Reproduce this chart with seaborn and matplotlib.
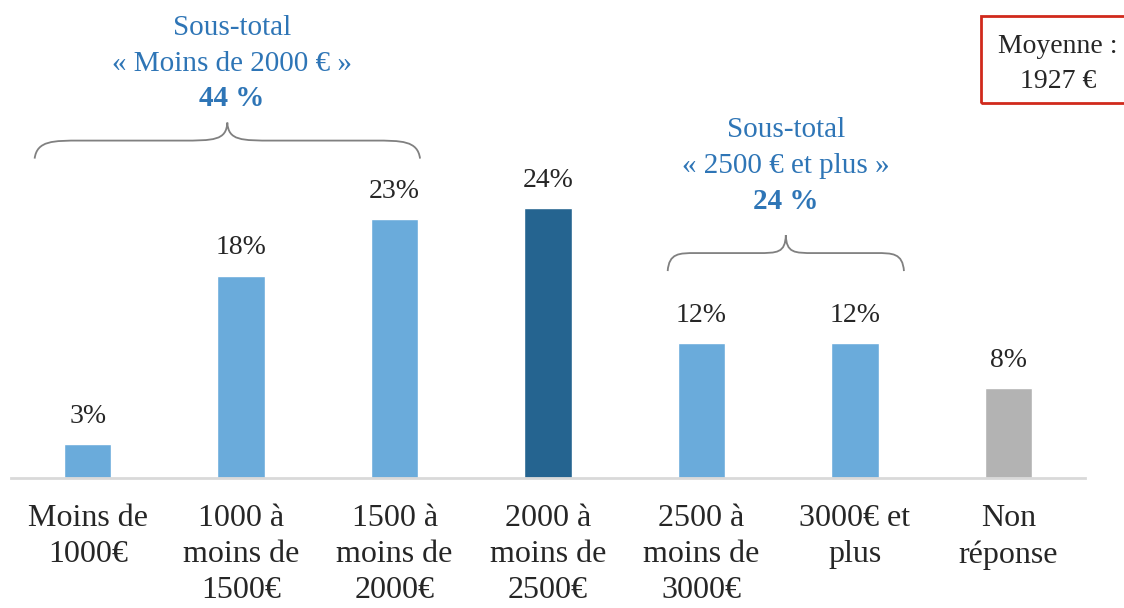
import matplotlib
matplotlib.use("Agg")
import matplotlib.pyplot as plt
import matplotlib.path as mpath
import matplotlib.patches as mpatches
import seaborn as sns

categories = ["Moins de\n1000€", "1000 à\nmoins de\n1500€", "1500 à\nmoins de\n2000€",
              "2000 à\nmoins de\n2500€", "2500 à\nmoins de\n3000€", "3000€ et\nplus", "Non\nréponse"]
values = [3, 18, 23, 24, 12, 12, 8]
bar_colors = ["#6AABDB", "#6AABDB", "#6AABDB", "#256490", "#6AABDB", "#6AABDB", "#B3B3B3"]

subtotal_left = ["Sous-total", "« Moins de 2000 € »", "44 %"]
subtotal_right = ["Sous-total", "« 2500 € et plus »", "24 %"]
mean_text = "Moyenne :\n1927 €"

blue = "#2E75B6"
serif = ["Liberation Serif", "DejaVu Serif"]

sns.set_theme(style="white")
plt.rcParams["font.family"] = serif

fig = plt.figure(figsize=(11.24, 6.08), dpi=100)
ax = fig.add_axes([11 / 1124, 130 / 608, 1074 / 1124, 478 / 608])

sns.barplot(x=list(range(len(values))), y=values, hue=list(range(len(values))),
            palette=bar_colors, width=0.31, legend=False, saturation=1, ax=ax)

ax.set_xlim(-0.5, 6.5)
ax.set_ylim(0, 42.5)
ax.set_xticks(range(len(categories)))
ax.set_xticklabels(categories, fontsize=23, color="#262626", linespacing=1.3)
ax.tick_params(axis="x", length=0, pad=19)
ax.set_yticks([])
ax.set_xlabel("")
ax.set_ylabel("")
for s in ["left", "right", "top"]:
    ax.spines[s].set_visible(False)
ax.spines["bottom"].set_color("#D9D9D9")
ax.spines["bottom"].set_linewidth(2)

for i, v in enumerate(values):
    ax.annotate(f"{v}%", (i, v), xytext=(0, 11), textcoords="offset points",
                ha="center", va="bottom", fontsize=20, color="#262626")


def brace(ax, x0, x1, y, h):
    xm = (x0 + x1) / 2
    yc = y + h / 2
    k = (x1 - x0) * 0.12
    verts = [(x0, y), (x0 + k * 0.05, yc), (x0 + k * 0.4, yc), (x0 + k, yc),
             (xm - k, yc), (xm - k * 0.3, yc), (xm - k * 0.02, yc), (xm, y + h),
             (xm + k * 0.02, yc), (xm + k * 0.3, yc), (xm + k, yc),
             (x1 - k, yc), (x1 - k * 0.4, yc), (x1 - k * 0.05, yc), (x1, y)]
    codes = [mpath.Path.MOVETO, mpath.Path.CURVE4, mpath.Path.CURVE4, mpath.Path.CURVE4,
             mpath.Path.LINETO, mpath.Path.CURVE4, mpath.Path.CURVE4, mpath.Path.CURVE4,
             mpath.Path.CURVE4, mpath.Path.CURVE4, mpath.Path.CURVE4,
             mpath.Path.LINETO, mpath.Path.CURVE4, mpath.Path.CURVE4, mpath.Path.CURVE4]
    ax.add_patch(mpatches.PathPatch(mpath.Path(verts, codes), fill=False,
                                    edgecolor="#808080", lw=1.3, clip_on=False))


brace(ax, -0.346, 2.166, 28.4, 3.2)
brace(ax, 3.78, 5.32, 18.4, 3.2)


def subtotal(ax, x, y, lines):
    ax.text(x, y, lines[0], ha="center", va="center", fontsize=21, color=blue)
    ax.text(x, y - 3.15, lines[1], ha="center", va="center", fontsize=21, color=blue)
    ax.text(x, y - 6.3, lines[2], ha="center", va="center", fontsize=21, color=blue,
            fontweight="bold")


subtotal(ax, 0.94, 40.0, subtotal_left)
subtotal(ax, 4.55, 30.9, subtotal_right)

fig.patches.append(mpatches.Rectangle((981 / 1124, 1 - 103 / 608), 160 / 1124, 87 / 608,
                                      transform=fig.transFigure, fill=False,
                                      edgecolor="#D0291C", lw=2))
fig.text(1058 / 1124, 1 - 64 / 608, mean_text, ha="center", va="center",
         fontsize=20, color="#262626", linespacing=1.5)

fig.savefig("out.png", dpi=100)
